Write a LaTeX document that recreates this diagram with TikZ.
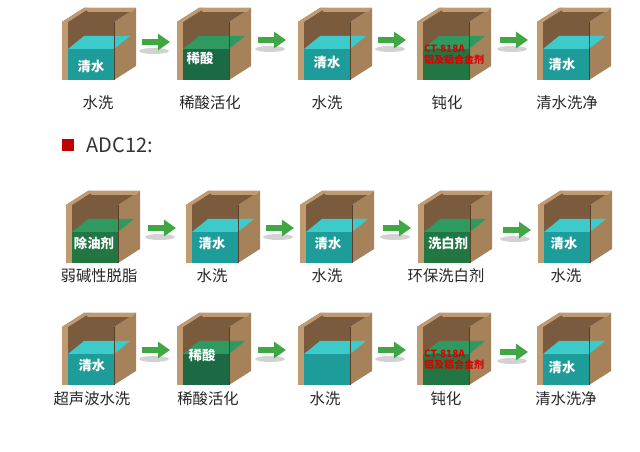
\documentclass[tikz,border=0pt]{standalone}
\usepackage{fontspec}
\setmainfont{Noto Sans CJK SC}
\usetikzlibrary{arrows.meta}
\definecolor{wallout}{HTML}{A5825A}
\definecolor{wallin}{HTML}{7B5B3E}
\definecolor{wallrim}{HTML}{C09A70}
\definecolor{waterfront}{HTML}{1E9C9A}
\definecolor{watertop}{HTML}{3CCACB}
\definecolor{acidfront}{HTML}{1B6A44}
\definecolor{acidtop}{HTML}{2E9A60}
\definecolor{stepgreen}{HTML}{3FA845}
\def\tanktop{watertop}
\def\tankfront{waterfront}
\tikzset{
  tank/.pic={
    \fill[wallout] (52,0) -- (74,-14) -- (74,44) -- (52,58) -- cycle;
    \fill[wallin] (0,0) -- (22,-14) -- (74,-14) -- (52,0) -- (52,58) -- (0,58) -- cycle;
    \fill[wallrim] (0,0) -- (22,-14) -- (28,-14) -- (6,0) -- cycle;
    \fill[wallrim] (0,0) rectangle (6,58);
    \fill[wallrim] (22,-14) -- (74,-14) -- (70,-10) -- (26,-10) -- cycle;
    \fill[\tanktop] (6,27) -- (52,27) -- (68,14) -- (22,14) -- cycle;
    \fill[\tankfront] (6,27) rectangle (52,58);
    \draw[wallin!70!black, line width=0.4pt] (52,0) -- (52,58);
  }
}
\begin{document}
\begin{tikzpicture}[x=0.75pt, y=-0.75pt,
  steplabel/.style = {font=\fontsize{11.5}{13}\selectfont, text=black!85},
  tag/.style = {font=\bfseries\fontsize{10}{11}\selectfont, text=white},
  redtag/.style = {font=\bfseries\fontsize{7.5}{8}\selectfont, text=red!85!black, align=left, inner sep=0pt},
  steparrow/.style = {-{Triangle[length=9pt, width=12pt]}, line width=4.5pt, stepgreen}
]
\useasboundingbox (0,0) rectangle (640,452);
\fill[white] (0,0) rectangle (640,452);

% row 1
\def\tanktop{watertop}\def\tankfront{waterfront}
\pic at (62,22) {tank};
\node[tag] (t11) at (91,66) {清水};
\def\tanktop{acidtop}\def\tankfront{acidfront}
\pic at (177,22) {tank};
\node[tag] (t12) at (200,58) {稀酸};
\def\tanktop{watertop}\def\tankfront{waterfront}
\pic at (298,22) {tank};
\node[tag] (t13) at (327,62) {清水};
\def\tanktop{acidtop}\def\tankfront{acidfront!80!stepgreen}
\pic at (417,22) {tank};
\node[redtag] (t14) at (454,55) {CT-818A\\铝及铝合金剂};
\def\tanktop{watertop}\def\tankfront{waterfront}
\pic at (537,22) {tank};
\node[tag] (t15) at (562,64) {清水};

\node[steplabel] (l11) at (98,103) {水洗};
\node[steplabel] (l12) at (210,103) {稀酸活化};
\node[steplabel] (l13) at (327,103) {水洗};
\node[steplabel] (l14) at (447,103) {钝化};
\node[steplabel] (l15) at (567,103) {清水洗净};

% ADC12 heading
\node[fill=red!75!black, minimum size=9pt, inner sep=0pt] (mark) at (68,145) {};
\node[anchor=west, font=\fontsize{15}{17}\selectfont, text=black!80] (head) at (82,145) {ADC12:};

% row 2
\def\tanktop{acidtop}\def\tankfront{acidfront!80!stepgreen}
\pic at (66,205) {tank};
\node[tag] (t21) at (94,243) {除油剂};
\def\tanktop{watertop}\def\tankfront{waterfront}
\pic at (186,205) {tank};
\node[tag] (t22) at (212,243) {清水};
\pic at (300,205) {tank};
\node[tag] (t23) at (328,243) {清水};
\def\tanktop{acidtop}\def\tankfront{acidfront!80!stepgreen}
\pic at (418,205) {tank};
\node[tag] (t24) at (448,243) {洗白剂};
\def\tanktop{watertop}\def\tankfront{waterfront}
\pic at (538,205) {tank};
\node[tag] (t25) at (564,243) {清水};

\node[steplabel] (l21) at (99,276) {弱碱性脱脂};
\node[steplabel] (l22) at (212,276) {水洗};
\node[steplabel] (l23) at (327,276) {水洗};
\node[steplabel] (l24) at (446,276) {环保洗白剂};
\node[steplabel] (l25) at (566,276) {水洗};

% row 3
\def\tanktop{watertop}\def\tankfront{waterfront}
\pic at (62,327) {tank};
\node[tag] (t31) at (92,365) {清水};
\def\tanktop{acidtop}\def\tankfront{acidfront}
\pic at (177,327) {tank};
\node[tag] (t32) at (202,355) {稀酸};
\def\tanktop{watertop}\def\tankfront{waterfront}
\pic at (298,327) {tank};
\def\tanktop{acidtop}\def\tankfront{acidfront!80!stepgreen}
\pic at (417,327) {tank};
\node[redtag] (t34) at (454,360) {CT-818A\\铝及铝合金剂};
\def\tanktop{watertop}\def\tankfront{waterfront}
\pic at (537,327) {tank};
\node[tag] (t35) at (562,367) {清水};

\node[steplabel] (l31) at (92,399) {超声波水洗};
\node[steplabel] (l32) at (208,399) {稀酸活化};
\node[steplabel] (l33) at (325,399) {水洗};
\node[steplabel] (l34) at (446,399) {钝化};
\node[steplabel] (l35) at (566,399) {清水洗净};

% arrows between tanks
\foreach \ax/\ay in {142/42, 258/40, 378/40, 500/40,
                     148/228, 266/228, 383/228, 503/230,
                     142/350, 258/350, 378/350, 500/352} {
  \coordinate (s) at (\ax,\ay);
  \coordinate (e) at (\ax+28,\ay);
  \fill[black!35, opacity=0.5] (\ax+12,\ay+9) ellipse (15 and 3);
  \draw[steparrow] (s) -- (e);
}
\end{tikzpicture}
\end{document}
